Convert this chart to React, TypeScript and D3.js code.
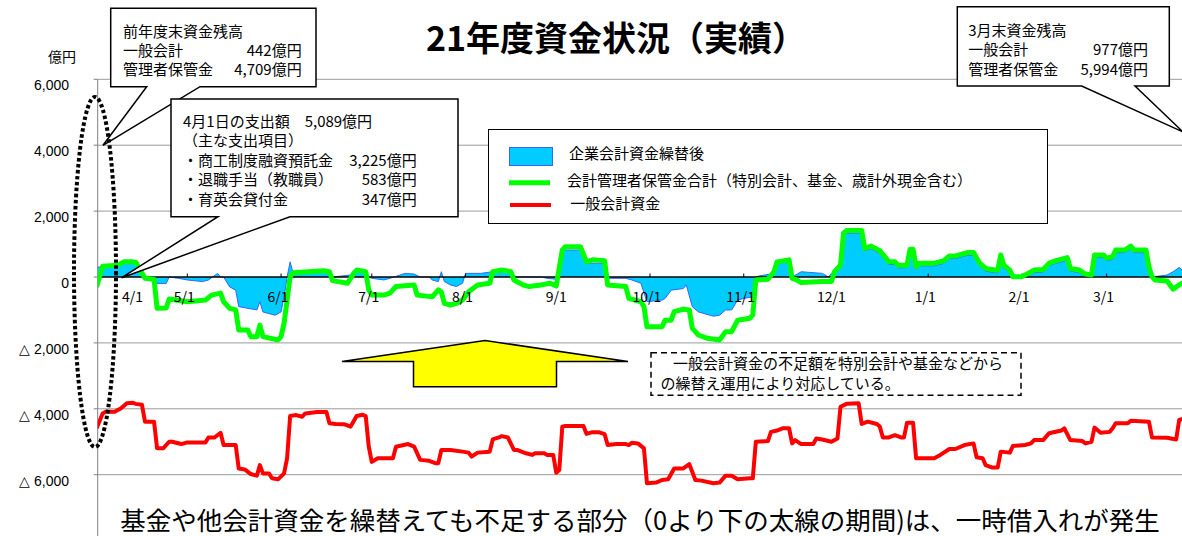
import React from "react";
import * as d3 from "d3";

// ---- data (day index from 4/1, value in 億円) ----
const monthLabels = ["4/1", "5/1", "6/1", "7/1", "8/1", "9/1", "10/1", "11/1", "12/1", "1/1", "2/1", "3/1"];
const monthDays = [0, 30, 61, 91, 122, 153, 183, 214, 244, 275, 306, 334];

const yTickValues = [6000, 4000, 2000, 0, -2000, -4000, -6000];
const yTickLabels = ["6,000", "4,000", "2,000", "0", "△ 2,000", "△ 4,000", "△ 6,000"];

// 会計管理者保管金合計
const greenSeries: [number, number][] = [
  [0,-300],[2,330],[7,360],[9,460],[12,460],[13,440],[16,-40],[19,-70],[20,-950],[23,-940],[24,-670],[30,-750],[36,-700],[38,-550],[41,-490],[42,-750],[44,-950],[46,-1000],[47,-1610],[50,-1610],[51,-1810],[53,-1810],[54,-1460],[55,-1810],[60,-1910],[61,-1810],[62,-1400],[64,10],[65,130],[75,190],[77,160],[78,-110],[83,-190],[85,110],[86,210],[89,160],[90,-390],[91,-550],[95,-550],[97,-490],[99,-290],[105,-240],[106,-550],[111,-600],[113,-390],[114,-450],[115,-800],[117,-850],[119,-800],[121,-700],[123,-450],[126,-240],[130,-190],[131,160],[134,210],[137,160],[138,-90],[141,-240],[143,-290],[147,-240],[150,-190],[152,-270],[154,820],[155,920],[160,920],[162,460],[164,520],[168,490],[169,-240],[175,-290],[176,-650],[180,-750],[181,-900],[182,-1510],[187,-1510],[188,-1310],[190,-1310],[191,-1050],[194,-980],[196,-1000],[197,-1560],[199,-1760],[202,-1860],[206,-1910],[208,-1660],[210,-1660],[212,-1310],[216,-1250],[217,-1150],[218,-90],[222,-70],[224,160],[225,460],[229,520],[230,-40],[231,-70],[233,-170],[240,-140],[243,-140],[244,160],[245,260],[246,360],[247,1330],[248,1410],[253,1410],[254,870],[256,940],[259,800],[262,460],[264,460],[265,360],[268,360],[269,840],[270,840],[271,310],[272,420],[277,420],[280,490],[282,640],[284,640],[288,740],[290,740],[292,420],[294,260],[297,210],[298,210],[299,670],[300,360],[302,210],[303,10],[306,10],[310,210],[313,230],[315,420],[317,490],[321,590],[322,260],[325,210],[327,90],[329,60],[330,670],[333,670],[334,570],[336,620],[337,820],[340,820],[342,940],[343,820],[347,820],[348,310],[349,10],[350,-90],[354,-120],[356,-370],[358,-240],[359,-190],[364,-250]
];

// 企業会計資金繰替後
const blueSeries: [number, number][] = [
  [0,300],[2,300],[7,330],[9,420],[12,420],[14,310],[15,60],[16,0],[19,0],[20,-200],[23,-200],[24,0],[27,-40],[30,-90],[35,-140],[37,-90],[40,110],[41,0],[42,0],[44,-300],[46,-400],[47,-900],[53,-1000],[54,-750],[55,-1060],[59,-1160],[61,-1060],[62,-600],[63,0],[64,460],[65,110],[75,160],[77,130],[78,0],[84,60],[86,160],[89,160],[90,0],[91,-40],[95,-90],[97,-40],[102,110],[105,90],[107,0],[110,0],[111,-90],[113,-140],[114,160],[115,-140],[117,-240],[119,-290],[121,-190],[122,110],[127,110],[131,160],[134,190],[137,110],[139,0],[147,0],[149,-40],[152,-70],[153,0],[154,820],[160,820],[162,420],[168,420],[169,-40],[175,-40],[177,-90],[180,-190],[182,-750],[187,-700],[188,-650],[190,-400],[194,-350],[195,-240],[197,-900],[199,-1060],[204,-1190],[206,-1160],[208,-1000],[210,-1000],[212,-700],[214,-650],[217,-600],[218,0],[219,30],[224,110],[225,460],[229,460],[230,0],[233,160],[240,110],[242,0],[243,110],[246,360],[247,1330],[253,1330],[254,800],[256,860],[259,720],[262,380],[264,380],[265,280],[268,280],[269,760],[270,760],[271,230],[272,340],[277,340],[280,410],[282,560],[284,560],[288,660],[290,660],[292,340],[294,180],[297,130],[298,130],[299,590],[300,280],[302,130],[303,0],[306,0],[310,130],[313,150],[315,340],[317,410],[321,510],[322,180],[325,130],[327,30],[329,0],[330,590],[333,590],[334,490],[336,540],[337,740],[340,740],[342,860],[343,740],[347,740],[348,230],[349,0],[354,60],[356,160],[358,290],[359,210],[364,150]
];

// 一般会計資金
const redSeries: [number, number][] = [
  [0,-4590],[2,-4140],[3,-4090],[6,-4090],[7,-4040],[8,-3990],[10,-3830],[12,-3820],[13,-3850],[15,-3880],[16,-4390],[19,-4390],[20,-5200],[22,-5200],[24,-5000],[25,-5000],[28,-5070],[30,-5020],[36,-5020],[37,-4870],[39,-4870],[41,-4730],[42,-5100],[46,-5100],[47,-5810],[49,-5840],[51,-5980],[53,-6030],[54,-5710],[55,-5960],[57,-5960],[58,-6110],[60,-6140],[62,-5960],[63,-5500],[64,-4220],[66,-4190],[68,-4240],[69,-4140],[73,-4100],[76,-4100],[77,-4440],[79,-4460],[82,-4470],[84,-4540],[86,-4220],[88,-4180],[89,-4220],[90,-5150],[91,-5610],[93,-5500],[98,-5500],[99,-5150],[103,-5070],[105,-5150],[107,-5550],[110,-5580],[112,-5650],[113,-5650],[114,-5250],[117,-5250],[121,-5300],[123,-5330],[124,-5450],[126,-5330],[130,-5300],[131,-4930],[133,-4870],[134,-4830],[136,-4870],[138,-5250],[139,-5250],[142,-5350],[144,-5400],[145,-5350],[148,-5350],[149,-5400],[151,-5400],[152,-5940],[153,-5860],[154,-4540],[155,-4520],[161,-4520],[162,-4760],[164,-4710],[166,-4710],[168,-4770],[169,-5100],[172,-5070],[175,-5070],[176,-5100],[177,-5030],[179,-5050],[181,-5200],[182,-6260],[185,-6240],[187,-6160],[189,-6140],[191,-5810],[194,-5810],[196,-5680],[198,-6160],[200,-6180],[204,-6260],[206,-6240],[208,-6030],[210,-6030],[212,-6140],[216,-6110],[217,-6110],[218,-5000],[222,-4980],[223,-4700],[225,-4660],[227,-4590],[229,-4590],[230,-5050],[231,-4950],[233,-5070],[237,-5070],[238,-4900],[240,-4930],[243,-5000],[245,-4900],[246,-3940],[248,-3850],[252,-3830],[253,-4460],[255,-4390],[258,-4460],[259,-4540],[260,-4870],[262,-4870],[264,-4800],[266,-4870],[267,-4870],[268,-4420],[270,-4420],[271,-5500],[277,-5500],[279,-5400],[282,-5220],[284,-5220],[287,-5100],[290,-5050],[291,-5470],[293,-5500],[294,-5710],[296,-5780],[298,-5780],[299,-5300],[302,-5330],[303,-5130],[307,-5100],[309,-5050],[310,-4950],[313,-4950],[315,-4740],[319,-4660],[320,-4590],[322,-4950],[326,-4980],[327,-5050],[329,-5000],[330,-4570],[332,-4730],[335,-4700],[336,-4590],[337,-4440],[341,-4440],[342,-4360],[348,-4390],[349,-4870],[354,-4880],[357,-4930],[358,-4340],[364,-4150]
];

const legendLabels = ["企業会計資金繰替後", "会計管理者保管金合計（特別会計、基金、歳計外現金含む）", " 一般会計資金"];

const callout1Lines: [string, string][] = [["前年度末資金残高", ""], ["一般会計", "442億円"], ["管理者保管金", "4,709億円"]];
const callout2Lines: [string, string][] = [
  ["4月1日の支出額　5,089億円", ""],
  ["（主な支出項目）", ""],
  ["・商工制度融資預託金", "3,225億円"],
  ["・退職手当（教職員）", "583億円"],
  ["・育英会貸付金", "347億円"],
];
const callout3Lines: [string, string][] = [["3月末資金残高", ""], ["一般会計", "977億円"], ["管理者保管金", "5,994億円"]];
const noteLines = ["一般会計資金の不足額を特別会計や基金などから", "の繰替え運用により対応している。"];
const titleText = "21年度資金状況（実績）";
const bottomText = "基金や他会計資金を繰替えても不足する部分（0より下の太線の期間)は、一時借入れが発生";

const JP = '"Noto Sans CJK JP", "Noto Sans", sans-serif';
const AR = '"Liberation Sans", Arial, sans-serif';

const W = 1182;
const H = 536;

function calloutPath(l: number, t: number, r: number, b: number, tl: number, tr: number, tipX: number, tipY: number) {
  return `M${l},${t}H${r}V${b}H${tr}L${tipX},${tipY}L${tl},${b}H${l}Z`;
}

export default function App() {
  const x = d3.scaleLinear().domain([0, 365]).range([96.6, 96.6 + 365 * 3.024]);
  const y = d3.scaleLinear().domain([-6000, 6000]).range([474.7, 79.3]);
  const axisX = 97.7;

  const area = d3.area<[number, number]>().x((d) => x(d[0])).y0(y(0)).y1((d) => y(d[1]));
  const line = d3.line<[number, number]>().x((d) => x(d[0])).y((d) => y(d[1]));

  const fs = 15;

  const renderCallout = (lines: [string, string][], left: number, right: number, base: number, step: number) =>
    lines.map((ln, i) => (
      <g key={i}>
        <text x={left} y={base + i * step} fontFamily={JP} fontSize={fs} fill="#000" style={{ whiteSpace: "pre" }}>
          {ln[0]}
        </text>
        {ln[1] && (
          <text x={right} y={base + i * step} fontFamily={JP} fontSize={fs} fill="#000" textAnchor="end">
            {ln[1]}
          </text>
        )}
      </g>
    ));

  return (
    <svg width={W} height={H} style={{ position: "absolute", left: 0, top: 0, background: "#fff" }}>
      <rect x={0} y={0} width={W} height={H} fill="#fff" />
      <defs>
        <clipPath id="plot">
          <rect x={axisX} y={0} width={W - axisX} height={H} />
        </clipPath>
      </defs>

      {/* gridlines */}
      {yTickValues.map((v, i) =>
        v === 0 ? null : (
          <line key={i} x1={axisX} x2={W} y1={y(v)} y2={y(v)} stroke="#9a9a9a" strokeWidth={1} />
        )
      )}
      {/* y axis */}
      <line x1={axisX} x2={axisX} y1={y(6000)} y2={H} stroke="#808080" strokeWidth={1} />
      {yTickValues.map((v, i) => (
        <line key={"t" + i} x1={axisX - 4} x2={axisX} y1={y(v)} y2={y(v)} stroke="#808080" strokeWidth={1} />
      ))}
      {yTickValues.map((v, i) => (
        <text key={"l" + i} x={69} y={y(v) + 11} textAnchor="end" fontFamily={AR} fontSize={14} fill="#000">
          {yTickLabels[i]}
        </text>
      ))}
      <text x={62} y={62} textAnchor="middle" fontFamily={JP} fontSize={14} fill="#000">億円</text>

      <g clipPath="url(#plot)">
        <path d={area(blueSeries) || ""} fill="#00ccff" />
        <path d={line(blueSeries) || ""} fill="none" stroke="#3366ff" strokeWidth={1} />
        <line x1={axisX} x2={W} y1={y(0)} y2={y(0)} stroke="#000" strokeWidth={1.5} />
        {monthDays.map((d, i) => (
          <line key={i} x1={x(d)} x2={x(d)} y1={y(0) - 3.5} y2={y(0)} stroke="#000" strokeWidth={1} />
        ))}
        <path d={line(greenSeries) || ""} fill="none" stroke="#00ff00" strokeWidth={5} strokeLinejoin="round" />
        <path d={line(redSeries) || ""} fill="none" stroke="#ff0000" strokeWidth={4} strokeLinejoin="round" />
      </g>
      {monthDays.map((d, i) => (
        <text key={"m" + i} x={i === 0 ? x(d) + 36 : x(d) - 3} y={302} textAnchor="middle" fontFamily={JP} fontSize={14} fill="#000">
          {monthLabels[i]}
        </text>
      ))}

      {/* legend */}
      <rect x={488.5} y={129.5} width={559} height={94} fill="#fff" stroke="#000" strokeWidth={1} />
      <rect x={509.5} y={147.5} width={43} height={18} fill="#00ccff" stroke="#3366ff" strokeWidth={1} />
      <line x1={509} x2={550} y1={182.7} y2={182.7} stroke="#00ff00" strokeWidth={5} />
      <line x1={510} x2={551} y1={205} y2={205} stroke="#ff0000" strokeWidth={4} />
      <text x={569} y={159} fontFamily={JP} fontSize={fs} fill="#000">{legendLabels[0]}</text>
      <text x={567} y={185.5} fontFamily={JP} fontSize={fs} fill="#000">{legendLabels[1]}</text>
      <text x={567} y={208.5} fontFamily={JP} fontSize={fs} fill="#000" style={{ whiteSpace: "pre" }}>{legendLabels[2]}</text>

      {/* callouts */}
      <path d={calloutPath(110.7, 8.3, 316, 86.7, 146.7, 200, 103, 145.3)} fill="#fff" stroke="#000" strokeWidth={1.5} strokeLinejoin="miter" />
      {renderCallout(callout1Lines, 123, 301.7, 36.5, 19.4)}

      <path d={calloutPath(171, 99, 458, 216.7, 218, 290, 121.7, 277.7)} fill="#fff" stroke="#000" strokeWidth={1.5} />
      {renderCallout(callout2Lines, 183, 416.7, 127, 19.4)}

      <path d={calloutPath(957.3, 6.7, 1169.3, 86, 1081.7, 1135, 1183, 132)} fill="#fff" stroke="#000" strokeWidth={1.5} />
      {renderCallout(callout3Lines, 968.3, 1148, 35.5, 19.5)}

      {/* yellow arrow */}
      <path
        d="M485,340.5L628,361.5H556.5V386.7H413.5V361.5H342Z"
        fill="#ffff00"
        stroke="#000"
        strokeWidth={1.5}
      />

      {/* dashed note */}
      <rect x={651} y={352.7} width={370} height={42.5} fill="#fff" stroke="#000" strokeWidth={1.5} strokeDasharray="6 4" />
      <text x={673} y={369} fontFamily={JP} fontSize={fs} fill="#000">{noteLines[0]}</text>
      <text x={660.5} y={389} fontFamily={JP} fontSize={fs} fill="#000">{noteLines[1]}</text>

      {/* title */}
      <text x={616} y={51} textAnchor="middle" fontFamily={JP} fontWeight="bold" fontSize={34} fill="#000">{titleText}</text>

      {/* bottom text */}
      <text x={640} y={530} textAnchor="middle" fontFamily={JP} fontSize={25.5} fill="#000">{bottomText}</text>

      {/* dotted ellipse */}
      <ellipse cx={95} cy={272} rx={21} ry={175} fill="none" stroke="#000" strokeWidth={4} strokeDasharray="3.5 2.5" />
    </svg>
  );
}
